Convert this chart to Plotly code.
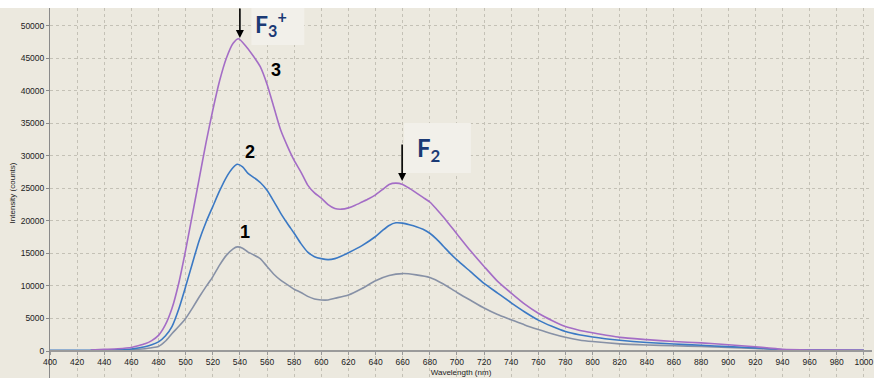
import plotly.graph_objects as go

# ---- data ----
wl_3 = [430, 440, 450, 460, 465, 470, 475, 480, 485, 490, 495, 500, 505, 510, 515, 520, 525, 530, 535, 539,
        545, 550, 555, 560, 565, 570, 575, 580, 585, 590, 595, 600, 605, 610, 615, 620, 625, 630, 635, 640,
        645, 650, 655, 660, 665, 670, 675, 680, 685, 690, 695, 700, 710, 720, 730, 740, 750, 760, 770, 780,
        790, 800, 820, 840, 860, 880, 900, 920, 930, 940, 960, 980, 1000]
int_3 = [150, 250, 350, 550, 800, 1100, 1600, 2400, 4000, 6600, 10500, 15500, 21000, 26500, 32000, 37000, 41500, 45000, 47300, 48000,
         46700, 45300, 43700, 41000, 37500, 34000, 31500, 29300, 27500, 25500, 24300, 23500, 22500, 21900, 21800, 22000, 22400, 22900, 23400, 24000,
         24800, 25600, 25800, 25600, 25000, 24300, 23600, 22900, 21800, 20600, 19300, 18000, 15400, 13000, 10700, 8900, 7200, 5800, 4700, 3750,
         3200, 2800, 2100, 1750, 1450, 1250, 950, 650, 450, 250, 150, 150, 100]

wl_2 = [400, 420, 440, 450, 460, 465, 470, 475, 480, 485, 490, 495, 500, 505, 510, 515, 520, 525, 530, 535, 538,
        542, 546, 550, 555, 560, 565, 570, 575, 580, 585, 590, 595, 600, 605, 610, 615, 620, 630, 640, 645, 650,
        655, 660, 665, 670, 675, 680, 685, 690, 695, 700, 710, 720, 730, 740, 750, 760, 770, 780, 790, 800,
        820, 840, 860, 880, 900, 920, 930, 940, 960, 980, 1000]
int_2 = [100, 100, 150, 200, 300, 450, 650, 950, 1400, 2300, 3800, 6500, 9900, 13500, 17000, 19800, 22200, 24600, 26700, 28200, 28700,
         28300, 27300, 26700, 25900, 24700, 23000, 21200, 19600, 18100, 16500, 15200, 14500, 14200, 14050, 14200, 14600, 15100, 16200, 17600, 18500, 19300,
         19700, 19650, 19400, 19100, 18700, 18100, 17200, 16100, 15000, 14000, 12200, 10400, 8900, 7400, 6000, 4750, 3800, 3000, 2500, 2150,
         1650, 1300, 1080, 880, 680, 480, 350, 200, 150, 120, 100]

wl_1 = [430, 440, 450, 460, 470, 475, 480, 485, 490, 495, 500, 505, 510, 515, 520, 525, 530, 535, 538,
        542, 546, 550, 555, 560, 565, 570, 575, 580, 585, 590, 595, 600, 605, 610, 620, 630, 640, 650, 660,
        670, 680, 690, 700, 710, 720, 730, 740, 750, 760, 770, 780, 790, 800, 820, 840, 860, 880, 900, 920,
        940, 960, 1000]
int_1 = [100, 120, 150, 200, 350, 500, 700, 1500, 2700, 3800, 5000, 6600, 8300, 9900, 11400, 13200, 14700, 15700, 16000,
         15800, 15200, 14800, 14200, 13000, 11800, 10900, 10200, 9500, 9000, 8400, 8000, 7850, 7850, 8100, 8600, 9600, 10800, 11600, 11900,
         11700, 11300, 10300, 9000, 7800, 6600, 5600, 4800, 4000, 3300, 2650, 2100, 1700, 1450, 1100, 920, 800, 700, 550, 400,
         200, 150, 100]

x_ticks = list(range(400, 1001, 20))
y_ticks = list(range(0, 50001, 5000))

BG = "#ECE9DF"
GRID = "#C4C1B6"
TXT = "#222222"
NAVY = "#1B3A75"

fig = go.Figure()
fig.add_trace(go.Scatter(x=wl_1, y=int_1, mode="lines", line=dict(color="#8791A6", width=1.6, shape="spline", smoothing=0.6), name="1"))
fig.add_trace(go.Scatter(x=wl_2, y=int_2, mode="lines", line=dict(color="#3B79C4", width=1.6, shape="spline", smoothing=0.6), name="2"))
fig.add_trace(go.Scatter(x=wl_3, y=int_3, mode="lines", line=dict(color="#A46DC6", width=1.6, shape="spline", smoothing=0.6), name="3"))

fig.update_layout(
    width=874, height=378,
    margin=dict(l=50, r=0, t=8, b=0),
    paper_bgcolor=BG, plot_bgcolor=BG,
    showlegend=False,
    font=dict(family="Liberation Sans, Arial, sans-serif", size=8, color=TXT),
    xaxis=dict(
        range=[400, 1006], tickvals=x_ticks, tickformat="d",
        anchor="free", position=27 / 370,
        showline=True, linecolor="#9A9A9A", linewidth=2,
        ticks="outside", ticklen=3, tickcolor="#9A9A9A",
        showgrid=True, gridcolor=GRID, griddash="dot", gridwidth=1,
        zeroline=False, ticklabeloverflow="allow",
        title=dict(text="Wavelength (nm)", font=dict(size=8, color=TXT), standoff=2),
        tickfont=dict(size=8.5, color=TXT),
    ),
    yaxis=dict(
        range=[-4150, 52720], tickvals=y_ticks, tickformat="d",
        showline=True, linecolor="#8A8A8A", linewidth=1,
        ticks="outside", ticklen=3, tickcolor="#8A8A8A",
        showgrid=True, gridcolor=GRID, griddash="dot", gridwidth=1,
        zeroline=False,
        title=dict(text="Intensity (counts)", font=dict(size=8, color=TXT), standoff=3),
        tickfont=dict(size=8.5, color=TXT),
        automargin=False,
    ),
)

# white strip at very top
fig.add_shape(type="rect", xref="paper", yref="paper", x0=-0.07, x1=1.01, y0=1, y1=1.05,
              fillcolor="white", line_width=0, layer="above")
# light label boxes
fig.add_shape(type="rect", xref="x", yref="y", x0=548.5, x1=587.5, y0=47030, y1=54500,
              fillcolor="#F2F0EA", line_width=0, layer="above")
fig.add_shape(type="rect", xref="x", yref="y", x0=661, x1=710.3, y0=27360, y1=35040,
              fillcolor="#F2F0EA", line_width=0, layer="above")

# peak labels
fig.add_annotation(x=549.5, y=50400, xref="x", yref="y", xanchor="left", yanchor="middle",
                   text="<b>F<sub>3</sub><sup>+</sup></b>", showarrow=False,
                   font=dict(family="Lato, sans-serif", size=23, color=NAVY))
fig.add_annotation(x=669.0, y=30900, xref="x", yref="y", xanchor="left", yanchor="middle",
                   text="<b>F<sub>2</sub></b>", showarrow=False,
                   font=dict(family="Lato, sans-serif", size=24, color=NAVY))

# arrows
fig.add_annotation(x=540, y=48100, xref="x", yref="y", ax=0, ay=-31, text="",
                   showarrow=True, arrowhead=2, arrowsize=1, arrowwidth=1.6, arrowcolor="black")
fig.add_annotation(x=659.6, y=26130, xref="x", yref="y", ax=0, ay=-38, text="",
                   showarrow=True, arrowhead=2, arrowsize=1, arrowwidth=1.6, arrowcolor="black")

# curve numbers
for txt, xx, yy in [("3", 566.9, 43190), ("2", 547.1, 30590), ("1", 544.1, 18290)]:
    fig.add_annotation(x=xx, y=yy, xref="x", yref="y", text="<b>%s</b>" % txt, showarrow=False,
                       font=dict(family="Liberation Sans, Arial, sans-serif", size=18, color="black"))

fig.write_html("out.html")
